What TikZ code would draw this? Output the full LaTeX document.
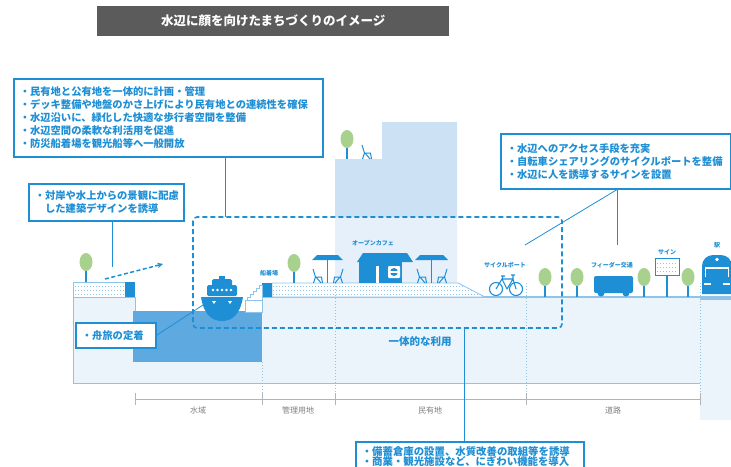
\documentclass[tikz,border=0pt]{standalone}
\usepackage{fontspec}
\setmainfont{Noto Sans CJK JP}
\usetikzlibrary{positioning}

\definecolor{mainblue}{HTML}{1E8FD5}
\definecolor{groundblue}{HTML}{EBF3FB}
\definecolor{edgeblue}{HTML}{8EC3EA}
\definecolor{waterblue}{HTML}{5EA9DF}
\definecolor{buildingblue}{HTML}{CDE1F4}
\definecolor{buildingpale}{HTML}{E6F0FA}
\definecolor{leafgreen}{HTML}{A9D18E}
\definecolor{titlegrey}{HTML}{5B5B5B}
\definecolor{rulergrey}{HTML}{B4B4B4}
\definecolor{labelgrey}{HTML}{7F7F7F}

\tikzset{
  infobox/.style={draw=mainblue, line width=1.6pt, fill=white, text=mainblue,
    font=\bfseries\fontsize{10.3}{13}\selectfont, align=left,
    inner xsep=6pt, inner ysep=0pt, anchor=north west},
  smalllabel/.style={text=mainblue, font=\bfseries\fontsize{6}{7}\selectfont, inner sep=0pt},
  arealabel/.style={text=labelgrey, font=\fontsize{8}{9}\selectfont, inner sep=0pt},
  leader/.style={draw=mainblue, line width=0.8pt},
  zone/.style={draw=mainblue, line width=1.6pt, dash pattern=on 5pt off 3pt, rounded corners=4pt},
  sitedot/.style={draw=edgeblue, line width=0.8pt, dash pattern=on 1pt off 2pt},
  icon/.style={mainblue, line width=1.1pt},
  streettree/.pic={
    \draw[mainblue, line width=1.2pt] (0,0) -- (0,-12);
    \fill[leafgreen] (0,-20) ellipse (6.5 and 9);
  },
  chair/.pic={
    \draw[mainblue, line width=1pt, line join=round]
      (0,-14) -- (2.5,-6) -- (9,-6) (2.5,-6) -- (0.5,0) (3,-6) -- (8,0) (8.5,-6) -- (9.5,0);
  },
}

\begin{document}
\begin{tikzpicture}[x=1pt, y=-1pt, >=stealth]
\useasboundingbox (0,0) rectangle (731,466);

    % Title
    \node[fill=titlegrey, minimum width=352pt, minimum height=30pt, inner sep=0pt,
      anchor=north west, text=white, font=\bfseries\fontsize{12.5}{14}\selectfont]
      (title) at (97,6) {水辺に顔を向けたまちづくりのイメージ};

    % Buildings behind the deck
    \fill[buildingblue] (335,283) -- (335,159) -- (382,159) -- (382,122)
      -- (457,122) -- (457,283) -- cycle;
    \fill[buildingpale] (335,217) rectangle (457,283);
    \pic at (347,159) {streettree};
    \pic at (362,159) {chair};

    % Ground and water
    \fill[groundblue] (73,297) rectangle (700,383);
    \fill[groundblue] (700,297) rectangle (731,420);
    \fill[white] (135,297) rectangle (262,311);
    \fill[waterblue] (133,311) rectangle (262,362);
    \draw[edgeblue, line width=1pt] (73,282) -- (73,383) -- (700,383);
    \draw[edgeblue, line width=1.2pt] (262,297) -- (731,297);
    \draw[edgeblue, line width=0.8pt] (73,297) -- (135,297) -- (135,311);

    % Left quay
    \draw[edgeblue, line width=0.8pt, fill=white] (73,282) rectangle (125,297);
    \foreach \yy in {286,290,294}
      \draw[sitedot] (75,\yy) -- (124,\yy);
    \fill[mainblue] (125,282) rectangle (135,297);

    % Deck with slope
    \draw[edgeblue, line width=0.8pt, fill=white] (272,283) -- (458,283) -- (485,297) -- (272,297) -- cycle;
    \begin{scope}
      \clip (272,283) -- (458,283) -- (485,297) -- (272,297) -- cycle;
      \foreach \yy in {286,290,294}
        \draw[sitedot] (273,\yy) -- (484,\yy);
    \end{scope}
    \fill[mainblue] (262,283) rectangle (272,297);

    % Landing stairs
    \draw[edgeblue, line width=0.8pt, fill=white] (245,300) rectangle (262,312);
    \draw[edgeblue, line width=0.8pt, fill=white] (247,300) -- (247,297) -- (250,297) -- (250,294)
      -- (253,294) -- (253,291) -- (256,291) -- (256,288) -- (259,288) -- (259,285)
      -- (262,285) -- (262,300) -- cycle;

    % Site borders
    \draw[sitedot] (262,362) -- (262,406);
    \foreach \xx in {335,526,700}
      \draw[sitedot] (\xx,283) -- (\xx,406);

    % Ruler
    \draw[rulergrey, line width=1pt] (135,399) -- (700,399);
    \foreach \xx in {135,262,335,526,700}
      \draw[rulergrey, line width=0.8pt] (\xx,393) -- (\xx,405);
    \node[arealabel] (water) at (198,410) {水域};
    \node[arealabel] (managed) at (298,410) {管理用地};
    \node[arealabel] (private) at (430,410) {民有地};
    \node[arealabel] (road) at (613,410) {道路};

    % Trees
    \foreach \xx/\yy in {86/282, 294/283, 545/297, 577/297, 644/297, 688/297}
      \pic at (\xx,\yy) {streettree};

    % Boat
    \fill[mainblue] (219,276) rectangle (225,280);
    \fill[mainblue, rounded corners=1.5pt] (212,279) rectangle (232,286);
    \fill[mainblue, rounded corners=1.5pt] (207,285) rectangle (237,296);
    \foreach \xx in {213,217.5,222,226.5,231}
      \fill[white] (\xx,290) circle (1.3);
    \fill[mainblue] (201,297) -- (243,297) .. controls (240,315) and (232,321) .. (222,321)
      .. controls (212,321) and (204,315) .. (201,297) -- cycle;
    \fill[white] (212,301) -- (216,301) -- (214,304) -- cycle;
    \fill[white] (228,301) -- (232,301) -- (230,304) -- cycle;

    % Open cafe
    \fill[mainblue] (317,255) -- (338,255) -- (343,260) -- (312,260) -- cycle;
    \draw[icon] (327.5,260) -- (327.5,283);
    \pic at (313,283) {chair};
    \pic[xscale=-1] at (343,283) {chair};
    \fill[mainblue] (363,253) -- (407,253) -- (413,262) -- (357,262) -- cycle;
    \fill[mainblue] (359,262) rectangle (402,283);
    \fill[white] (376,266) rectangle (379,283);
    \fill[white, rounded corners=1pt] (388,266) rectangle (400,278);
    \fill[mainblue] (394,272) circle (4);
    \fill[white] (390,271) rectangle (398,272.5);
    \fill[mainblue] (420,255) -- (443,255) -- (448,260) -- (415,260) -- cycle;
    \draw[icon] (431.5,260) -- (431.5,283);
    \pic at (417,283) {chair};
    \pic[xscale=-1] at (447,283) {chair};

    % Bicycle
    \draw[icon] (496,289) circle (6.5) (516,289) circle (6.5);
    \draw[icon, line join=round] (496,289) -- (502,279) -- (513,279) -- (516,289)
      (502,279) -- (507,289) -- (513,279) (501,276) -- (505,276) (511,275) -- (515,275)
      (502,279) -- (503,276) (513,279) -- (513,275);

    % Feeder bus
    \fill[mainblue, rounded corners=2pt] (594,276) rectangle (633,293);
    \fill[mainblue] (601,293) circle (3.5) (626,293) circle (3.5);

    % Sign
    \draw[icon] (667,275) -- (667,297);
    \draw[mainblue, line width=0.9pt, fill=white] (655,258) rectangle (679,275);
    \foreach \yy in {263,267,271}
      \draw[sitedot] (657,\yy) -- (677,\yy);

    % Station train
    \fill[edgeblue] (700,296) rectangle (731,300);
    \fill[mainblue, rounded corners=11pt] (702,294) -- (702,255) -- (732,255) -- (732,294);
    \fill[mainblue] (702,280) rectangle (732,294);
    \draw[white, line width=1.4pt] (705.5,277) -- (705.5,268) -- (728.5,268) -- (728.5,277);
    \fill[white] (704,283) rectangle (711,285);
    \fill[white] (723,283) rectangle (730,285);
    \fill[white] (717,259.5) circle (1.8);

    % Small labels
    \node[smalllabel] (pier) at (269,273) {船着場};
    \node[smalllabel] (cafe) at (373,243) {オープンカフェ};
    \node[smalllabel] (cycleport) at (505,265) {サイクルポート};
    \node[smalllabel] (feeder) at (612,265) {フィーダー交通};
    \node[smalllabel] (signlabel) at (667,252) {サイン};
    \node[smalllabel] (station) at (717,245) {駅};

    % Waterfront zone
    \draw[zone] (193,217) rectangle (562,328);
    \node[text=mainblue, font=\bfseries\fontsize{10.5}{12}\selectfont, inner sep=0pt]
      (unity) at (420,342) {一体的な利用};

    % View arrow
    \coordinate (view1) at (105,279);
    \coordinate (view2) at (163,264);
    \draw[->, mainblue, line width=1.5pt, dash pattern=on 4pt off 2.5pt] (view1) -- (view2);

    % Info boxes
    \node[infobox, text width=297pt, minimum height=78pt] (plan) at (13,78)
      {・民有地と公有地を一体的に計画・管理\\
       ・デッキ整備や地盤のかさ上げにより民有地との連続性を確保\\
       ・水辺沿いに、緑化した快適な歩行者空間を整備\\
       ・水辺空間の柔軟な利活用を促進\\
       ・防災船着場を観光船等へ一般開放};
    \node[infobox, text width=143pt, minimum height=37pt] (design) at (28,183)
      {・対岸や水上からの景観に配慮\\
       \phantom{・}した建築デザインを誘導};
    \node[infobox, text width=218pt, minimum height=55pt] (access) at (500,133)
      {・水辺へのアクセス手段を充実\\
       ・自転車シェアリングのサイクルポートを整備\\
       ・水辺に人を誘導するサインを設置};
    \node[infobox, text width=68pt, minimum height=25pt] (cruise) at (75,322)
      {・舟旅の定着};
    \node[infobox, text width=216pt, minimum height=29pt,
      font=\bfseries\fontsize{10.4}{10.5}\selectfont] (stock) at (355,441)
      {・備蓄倉庫の設置、水質改善の取組等を誘導\\
       ・商業・観光施設など、にぎわい機能を導入};

    % Leader lines
    \coordinate (zonetop) at (225,217);
    \coordinate (facade) at (112,267);
    \coordinate (cycleend) at (525,245);
    \coordinate (feederend) at (617,245);
    \coordinate (boatend) at (203,305);
    \coordinate (zonebottom) at (464,328);
    \draw[leader] (plan.south -| zonetop) -- (zonetop);
    \draw[leader] (design.south -| facade) -- (facade);
    \draw[leader] (access.south -| feederend) -- (cycleend);
    \draw[leader] (access.south -| feederend) -- (feederend);
    \draw[leader] (cruise.east) -- (boatend);
    \draw[leader] (stock.north -| zonebottom) -- (zonebottom);

\end{tikzpicture}
\end{document}
